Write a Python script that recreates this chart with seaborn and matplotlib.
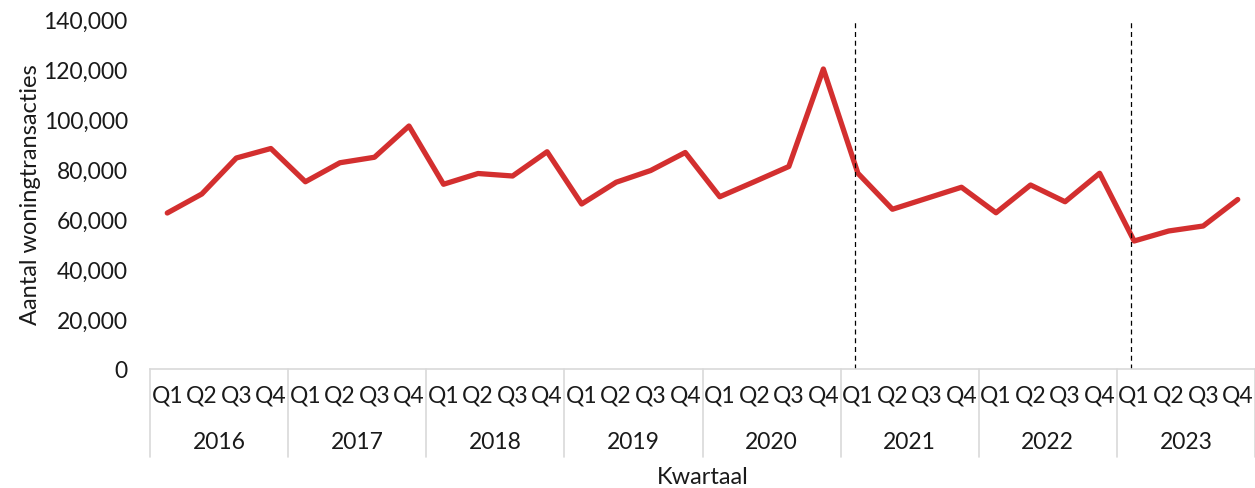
import numpy as np
import pandas as pd
import matplotlib
matplotlib.use("Agg")
import matplotlib.pyplot as plt
import matplotlib.transforms as mtransforms
from matplotlib.ticker import FuncFormatter
import seaborn as sns

# ---- data ----
years = ["2016", "2017", "2018", "2019", "2020", "2021", "2022", "2023"]
quarters = ["Q1", "Q2", "Q3", "Q4"]
transacties = [
    62400, 70000, 84400, 88200,   # 2016
    74900, 82500, 84700, 97200,   # 2017
    73900, 78200, 77200, 86900,   # 2018
    66000, 74700, 79400, 86600,   # 2019
    68900, 74900, 81000, 120000,  # 2020
    78300, 63900, 68300, 72700,   # 2021
    62500, 73600, 66900, 78300,   # 2022
    51200, 55200, 57200, 67800,   # 2023
]
markers_at = ["2021 Q1", "2023 Q1"]  # dashed reference lines
y_ticks = [0, 20000, 40000, 60000, 80000, 100000, 120000, 140000]

LINE_COLOR = "#d32f2f"
GRID_GRAY = "#d9d9d9"
TEXT = "#1a1a1a"
# ---------------------------------------

periods = [f"{y} {q}" for y in years for q in quarters]
df = pd.DataFrame({"periode": periods, "pos": np.arange(len(periods)), "aantal": transacties})

sns.set_style("white")
plt.rcParams["font.family"] = ["Lato", "DejaVu Sans"]
plt.rcParams["text.color"] = TEXT

fig = plt.figure(figsize=(12.55, 4.89), dpi=100)
ax = fig.add_axes([150 / 1255, 1 - 370 / 489, 1 - 150 / 1255, 350 / 489])

sns.lineplot(data=df, x="pos", y="aantal", ax=ax, color=LINE_COLOR, linewidth=3.8,
             solid_capstyle="round", solid_joinstyle="round")

# dashed lines just before the marked quarters
for p in markers_at:
    xpos = periods.index(p) - 0.08
    ax.axvline(xpos, color="black", linestyle=(0, (4, 3)), linewidth=0.9, ymin=0, ymax=1)

ax.set_xlim(-0.5, len(periods) - 0.5)
ax.set_ylim(0, 140000)
ax.set_yticks(y_ticks)
ax.yaxis.set_major_formatter(FuncFormatter(lambda v, _: f"{int(v):,}"))
ax.tick_params(axis="y", length=0, pad=16, labelsize=16.5, labelcolor=TEXT)

# quarter labels
ax.set_xticks(df["pos"])
ax.set_xticklabels([q for _ in years for q in quarters])
ax.tick_params(axis="x", length=0, pad=11, labelsize=16.5, labelcolor=TEXT)

for side in ["top", "right", "left"]:
    ax.spines[side].set_visible(False)
ax.spines["bottom"].set_color(GRID_GRAY)
ax.spines["bottom"].set_linewidth(1.2)

# year level of the category axis
trans = mtransforms.blended_transform_factory(ax.transData, ax.transAxes)
n_q = len(quarters)
for i, yr in enumerate(years):
    ax.text(i * n_q + (n_q - 1) / 2, -0.206, yr, transform=trans, ha="center", va="center",
            fontsize=16.5, color=TEXT)
for i in range(len(years) + 1):
    ax.plot([i * n_q - 0.5] * 2, [0, -0.252], transform=trans, color=GRID_GRAY,
            linewidth=1.2, clip_on=False)

ax.set_xlabel("Kwartaal", fontsize=17, labelpad=44, color=TEXT)
ax.set_ylabel("Aantal woningtransacties", fontsize=17, labelpad=2, color=TEXT)

fig.savefig("out.png", dpi=100)
